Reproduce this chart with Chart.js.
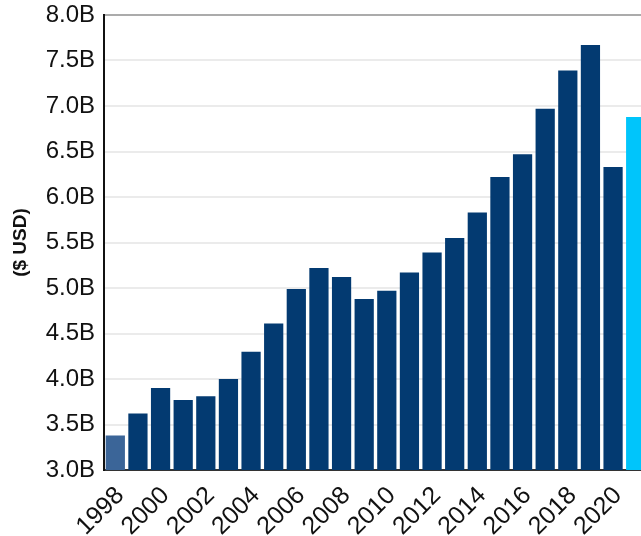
<!DOCTYPE html>
<html>
<head>
<meta charset="utf-8">
<script src="https://cdn.jsdelivr.net/npm/chart.js@4"></script>
<style>
  html, body { margin: 0; padding: 0; background: #fff; overflow: hidden; }
  #wrap { position: relative; width: 647px; height: 536px; }
</style>
</head>
<body>
<div id="wrap"><canvas id="chart"></canvas></div>
<script>
// Années (catégories)
const years = ['1998', '1999', '2000', '2001', '2002', '2003', '2004', '2005', '2006', '2007', '2008', '2009',
    '2010', '2011', '2012', '2013', '2014', '2015', '2016', '2017', '2018', '2019', '2020', '2021'];

// Valeurs en milliards de dollars
const valuesB = [3.38, 3.62, 3.90, 3.77, 3.81, 4.00, 4.30, 4.61, 4.99, 5.22, 5.12, 4.88,
    4.97, 5.17, 5.39, 5.55, 5.83, 6.22, 6.47, 6.97, 7.39, 7.67, 6.33, 6.88];

// Graduations de l'axe Y
const yMin = 3.0;
const yMax = 8.0;
const yStep = 0.5;

const colors = {
    navy: '#033a71',
    first: '#3b6598',
    last: '#00c5fb',
    grid: '#ebebeb',
    topLine: '#ababab',
    text: '#111111'
};

const font = 'Liberation Sans, Arial, sans-serif';

const barColors = years.map(function (y, i) {
    if (i === 0) return colors.first;
    if (i === years.length - 1) return colors.last;
    return colors.navy;
});

new Chart(document.getElementById('chart'), {
    type: 'bar',
    data: {
        labels: years,
        datasets: [{
            data: valuesB,
            backgroundColor: barColors,
            borderWidth: 0,
            barPercentage: 0.85,
            categoryPercentage: 1.0
        }]
    },
    options: {
        responsive: true,
        maintainAspectRatio: false,
        animation: false,
        layout: { padding: { top: 15, right: 0, left: 0, bottom: 0 } },
        plugins: {
            legend: { display: false },
            tooltip: { enabled: false }
        },
        scales: {
            x: {
                grid: { display: false },
                border: { display: true, color: '#333333', width: 2 },
                ticks: {
                    autoSkip: false,
                    maxRotation: 45,
                    minRotation: 45,
                    padding: 3,
                    labelOffset: 5,
                    color: colors.text,
                    font: { family: font, size: 25 },
                    callback: function (value, index) {
                        return index % 2 === 0 ? this.getLabelForValue(value) : '';
                    }
                },
                afterFit: function (scale) {
                    scale.height = 66;
                    scale.paddingLeft = 0;
                    scale.paddingRight = 0;
                }
            },
            y: {
                min: yMin,
                max: yMax,
                ticks: {
                    stepSize: yStep,
                    padding: 9,
                    color: colors.text,
                    font: { family: font, size: 24 },
                    callback: function (value) { return value.toFixed(1) + 'B'; }
                },
                grid: {
                    drawTicks: false,
                    lineWidth: 2,
                    color: function (ctx) {
                        return ctx.tick && ctx.tick.value === yMax ? colors.topLine : colors.grid;
                    }
                },
                border: { display: true, color: '#111111', width: 2 },
                title: {
                    display: true,
                    text: '($ USD)',
                    color: colors.text,
                    font: { family: font, size: 19, weight: 'bold' },
                    padding: { top: 9, bottom: 0 }
                },
                afterFit: function (scale) {
                    scale.width = 104;
                    scale.paddingTop = 0;
                    scale.paddingBottom = 0;
                }
            }
        }
    }
});
</script>
</body>
</html>
